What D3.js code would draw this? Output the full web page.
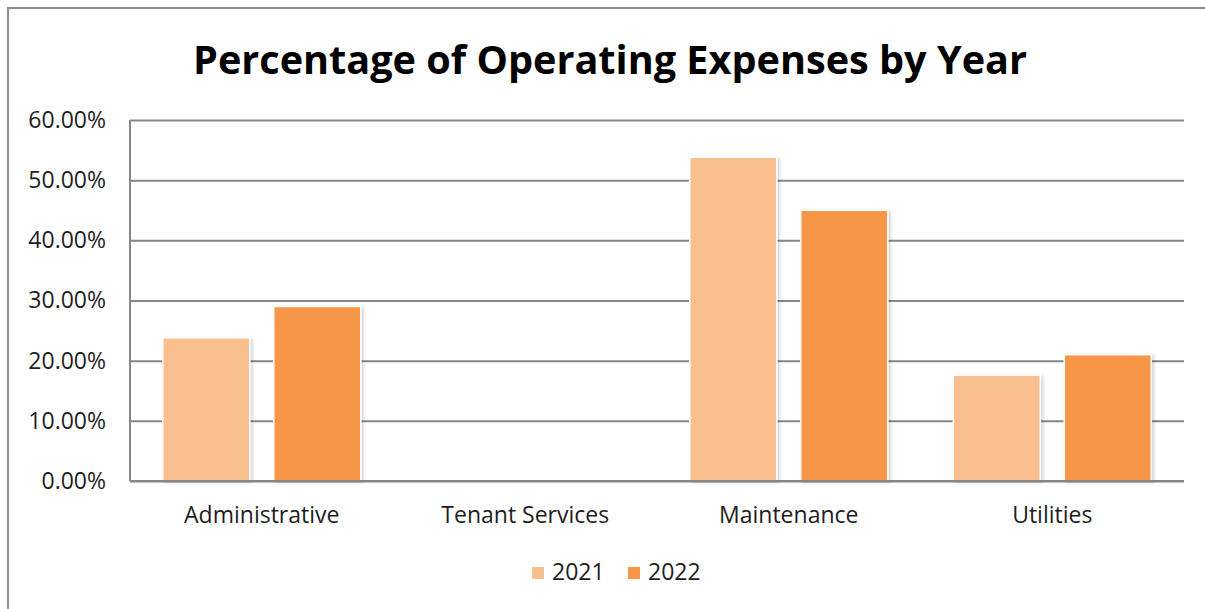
<!DOCTYPE html>
<html>
<head>
<meta charset="utf-8">
<script src="https://cdn.jsdelivr.net/npm/d3@7"></script>
<style>
  body { margin: 0; background: #fff; }
  text { font-family: "Open Sans", sans-serif; }
</style>
</head>
<body>
<div id="chartDiv"></div>
<script>
"use strict";

// chart data
var categories = ["Administrative", "Tenant Services", "Maintenance", "Utilities"];
var seriesNames = ["2021", "2022"];
var values2021 = [0.238, 0, 0.538, 0.176];
var values2022 = [0.290, 0, 0.450, 0.210];
var yTicks = [0, 0.1, 0.2, 0.3, 0.4, 0.5, 0.6];
var seriesColors = ["#F9BF8F", "#F79646"];

// svg parameters
var svgWidth = 1205;
var svgHeight = 609;
var plotLeft = 130, plotRight = 1184, plotTop = 120, plotBottom = 481;
var gridColor = "#868686";
var textColor = "#1e1e1e";

var svg = d3.select("#chartDiv").append("svg")
    .attr("width", svgWidth).attr("height", svgHeight);

// soft shadow for the bars
var filter = svg.append("defs").append("filter").attr("id", "barShadow")
    .attr("x", "-10%").attr("y", "-10%").attr("width", "130%").attr("height", "120%");
filter.append("feDropShadow").attr("dx", 2).attr("dy", 1).attr("stdDeviation", 1.5)
    .attr("flood-color", "#000").attr("flood-opacity", 0.18);

// outer chart border (only top and left visible in the frame)
svg.append("path")
    .attr("d", "M8," + svgHeight + "V8H" + svgWidth)
    .attr("fill", "none").attr("stroke", "#8c8c8c").attr("stroke-width", 2);

// title
var title = svg.append("text")
    .attr("x", 610).attr("y", 74)
    .attr("text-anchor", "middle")
    .attr("font-size", 40).attr("font-weight", "bold").attr("fill", "#000")
    .text("Percentage of Operating Expenses by Year");
title.attr("textLength", 834).attr("lengthAdjust", "spacingAndGlyphs");

// scales
var x0 = d3.scaleBand().domain(categories).range([plotLeft, plotRight]).padding(0);
var x1 = d3.scaleBand().domain(seriesNames).range([0, x0.bandwidth()])
    .paddingInner(0.216).paddingOuter(0.295);
var y = d3.scaleLinear().domain([0, 0.6]).range([plotBottom, plotTop]);

// y axis with gridlines
var yAxis = svg.append("g")
    .attr("transform", "translate(" + plotLeft + ",0)")
    .call(d3.axisLeft(y).tickValues(yTicks).tickFormat(d3.format(".2%"))
        .tickSize(-(plotRight - plotLeft)).tickPadding(24));
yAxis.select(".domain").remove();
yAxis.selectAll(".tick line").attr("stroke", gridColor).attr("stroke-width", 2);
yAxis.selectAll(".tick text").attr("font-size", 23).attr("fill", textColor)
    .attr("font-family", "Open Sans, sans-serif");

// vertical axis line
svg.append("line")
    .attr("x1", plotLeft).attr("x2", plotLeft)
    .attr("y1", y(0.6)).attr("y2", y(0))
    .attr("stroke", gridColor).attr("stroke-width", 2);

// bars
var rows = categories.map(function (c, i) {
    return {category: c, values: [values2021[i], values2022[i]]};
});
var groups = svg.append("g").attr("class", "bars").selectAll("g").data(rows).enter()
    .append("g")
    .attr("transform", function (d) { return "translate(" + x0(d.category) + ",0)"; });
groups.selectAll("rect")
    .data(function (d) {
        return d.values.map(function (v, j) { return {series: seriesNames[j], value: v, idx: j}; });
    })
    .enter().filter(function (d) { return d.value > 0; })
    .append("rect")
    .attr("x", function (d) { return x1(d.series); })
    .attr("y", function (d) { return y(d.value); })
    .attr("width", x1.bandwidth())
    .attr("height", function (d) { return y(0) - y(d.value); })
    .attr("fill", function (d) { return seriesColors[d.idx]; })
    .attr("stroke", "#fff").attr("stroke-width", 1.5)
    .attr("filter", "url(#barShadow)");

// bottom axis line (drawn over bars)
svg.append("line")
    .attr("x1", plotLeft).attr("x2", plotRight)
    .attr("y1", y(0)).attr("y2", y(0))
    .attr("stroke", gridColor).attr("stroke-width", 2);

// category labels
var xAxis = svg.append("g")
    .attr("transform", "translate(0," + plotBottom + ")")
    .call(d3.axisBottom(x0).tickSize(0).tickPadding(0));
xAxis.select(".domain").remove();
xAxis.selectAll(".tick text")
    .attr("y", 42).attr("dy", 0)
    .attr("font-size", 23).attr("fill", textColor)
    .attr("font-family", "Open Sans, sans-serif");

// legend
var legendX = [532, 628];
var legend = svg.append("g").attr("class", "legend").selectAll("g").data(seriesNames).enter()
    .append("g")
    .attr("transform", function (d, i) { return "translate(" + legendX[i] + ",567)"; });
legend.append("rect")
    .attr("width", 12).attr("height", 12)
    .attr("fill", function (d, i) { return seriesColors[i]; });
legend.append("text")
    .attr("x", 20).attr("y", 13)
    .attr("font-size", 23).attr("fill", textColor)
    .text(function (d) { return d; });
</script>
</body>
</html>
